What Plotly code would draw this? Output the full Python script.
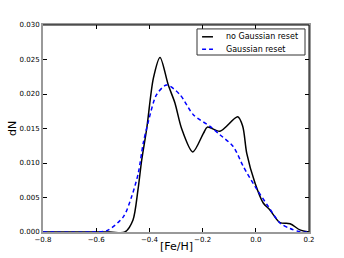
import plotly.graph_objects as go

# Data
feh_black = [-0.80, -0.55, -0.492, -0.462, -0.443, -0.429, -0.41, -0.385, -0.36, -0.329,
             -0.304, -0.279, -0.237, -0.197, -0.182, -0.135, -0.068, -0.049, -0.034,
             -0.003, 0.028, 0.053, 0.091, 0.129, 0.166, 0.20]
dn_black = [0.0, 0.0, 0.0, 0.0017, 0.0061, 0.0104, 0.0150, 0.0223, 0.0253, 0.0213,
            0.0187, 0.0150, 0.0116, 0.0143, 0.0152, 0.0146, 0.0167, 0.0153, 0.0114,
            0.0071, 0.0042, 0.0032, 0.00135, 0.0012, 0.0003, 0.0]

feh_blue = [-0.80, -0.62, -0.56, -0.498, -0.467, -0.442, -0.423, -0.404, -0.373, -0.335,
            -0.285, -0.235, -0.172, -0.135, -0.085, -0.047, -0.003, 0.047, 0.091,
            0.129, 0.17, 0.20]
dn_blue = [0.0, 0.0, 0.0002, 0.0022, 0.0051, 0.0085, 0.0129, 0.0160, 0.0199, 0.0213,
           0.0199, 0.0170, 0.0153, 0.0141, 0.0124, 0.0095, 0.0066, 0.0037, 0.0013,
           0.0005, 0.0, 0.0]

series_names = ["no Gaussian reset", "Gaussian reset"]
x_ticks = [-0.8, -0.6, -0.4, -0.2, 0.0, 0.2]
y_ticks = [0.0, 0.005, 0.010, 0.015, 0.020, 0.025, 0.030]

font = "DejaVu Sans"
black_line = dict(color="black", width=1.5)
blue_line = dict(color="blue", width=1.5, dash="4px,3px")

fig = go.Figure()
fig.add_trace(go.Scatter(x=feh_black, y=dn_black, mode="lines", name=series_names[0],
                         line=dict(**black_line, shape="spline", smoothing=0.8)))
fig.add_trace(go.Scatter(x=feh_blue, y=dn_blue, mode="lines", name=series_names[1],
                         line=dict(**blue_line, shape="spline", smoothing=0.8)))

fig.update_layout(
    width=344, height=258,
    margin=dict(l=43, r=35, t=25, b=26),
    paper_bgcolor="white", plot_bgcolor="white",
    font=dict(family=font, color="black", size=7),
    showlegend=False,
)
fig.update_xaxes(range=[-0.8, 0.2], tickvals=x_ticks,
                 ticktext=[("\u2212" if v < 0 else "") + f"{abs(v):.1f}" for v in x_ticks],
                 ticks="inside", ticklen=4, tickcolor="black", tickwidth=0.8,
                 showline=True, linecolor="#999999", linewidth=2, mirror="ticks",
                 showgrid=False, zeroline=False, automargin=False)
fig.update_yaxes(range=[0, 0.030], tickvals=y_ticks,
                 ticktext=[f"{v:.3f}" for v in y_ticks],
                 ticks="inside", ticklen=4, tickcolor="black", tickwidth=0.8,
                 showline=True, linecolor="#999999", linewidth=2, mirror="ticks",
                 showgrid=False, zeroline=False, automargin=False)
# axis titles
fig.add_annotation(text="[Fe/H]", xref="paper", yref="paper", x=0.5, y=-0.03,
                   xanchor="center", yanchor="top", showarrow=False,
                   font=dict(size=11, family=font))
fig.add_annotation(text="dN", xref="paper", yref="paper", x=-0.115, y=0.5,
                   xanchor="center", yanchor="middle", showarrow=False, textangle=-90,
                   font=dict(size=11, family=font))
# black top and right spines
fig.add_shape(type="line", xref="paper", yref="paper", x0=0, x1=1, y0=1, y1=1,
              line=dict(color="black", width=1), layer="above")
fig.add_shape(type="line", xref="paper", yref="paper", x0=1, x1=1, y0=0, y1=1,
              line=dict(color="black", width=1), layer="above")

# legend (matplotlib style)
fig.add_shape(type="rect", xref="paper", yref="paper", x0=0.579, x1=0.985, y0=0.855, y1=0.981,
              line=dict(color="#333333", width=1), fillcolor="white", layer="above")
for i, (name, ln) in enumerate(zip(series_names, [black_line, blue_line])):
    yy = 0.943 - i * 0.06
    fig.add_shape(type="line", xref="paper", yref="paper", x0=0.598, x1=0.639, y0=yy, y1=yy,
                  line=ln, layer="above")
    fig.add_annotation(text=name, xref="paper", yref="paper", x=0.682, y=yy,
                       xanchor="left", yanchor="middle", showarrow=False,
                       font=dict(size=8, family=font))

fig.write_html("out.html", post_script="document.body.style.margin='0px';",
               config={"displayModeBar": False})
